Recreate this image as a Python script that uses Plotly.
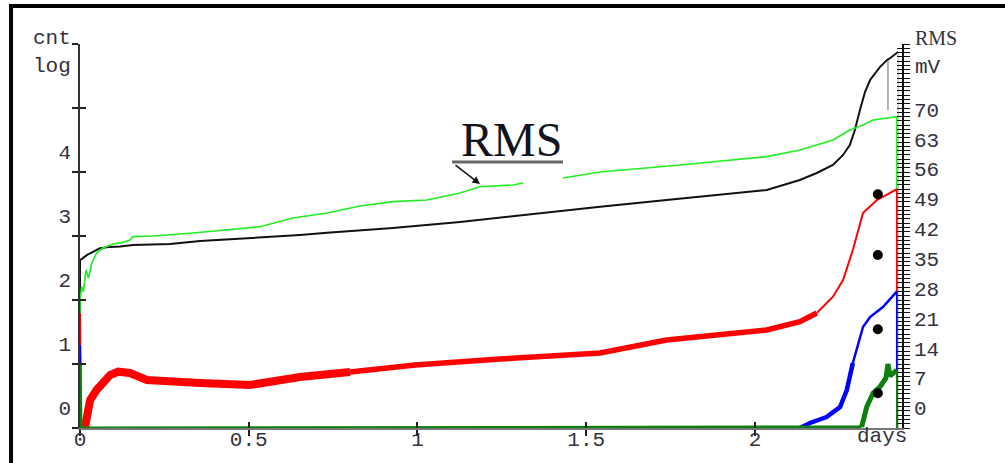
import plotly.graph_objects as go

# ---------------- data ----------------
# x in days; left axis = log counts; right axis = RMS in mV
black_x = [0, 0, 0.005, 0.02, 0.04, 0.059, 0.089, 0.119, 0.157, 0.267,
           0.356, 0.533, 0.652, 0.732, 0.927, 1.126, 1.333, 1.541, 1.738, 1.935,
           2.035, 2.133, 2.183, 2.231, 2.261, 2.281, 2.296, 2.311, 2.326, 2.341,
           2.370, 2.391, 2.397, 2.424, 2.424]
black_log = [0, 2.625, 2.64, 2.70, 2.755, 2.81, 2.83, 2.835, 2.86, 2.875,
             2.92, 2.97, 3.015, 3.05, 3.125, 3.22, 3.344, 3.458, 3.5625, 3.672,
             3.719, 3.875, 3.984, 4.109, 4.266, 4.422, 4.656, 4.969, 5.25, 5.4375,
             5.64, 5.75, 5.766, 5.875, 0]
spike_x = [2.394, 2.394]
spike_log = [5.74, 4.97]

rms_x = [0, 0, 0.005, 0.010, 0.018, 0.025, 0.035, 0.049, 0.068, 0.098,
         0.127, 0.148, 0.157, 0.216, 0.335, 0.533, 0.631, 0.732, 0.830, 0.927,
         1.028, 1.126, 1.185, 1.283, 1.313, 1.37, 1.431, 1.541, 1.778, 1.935,
         2.035, 2.133, 2.231, 2.281, 2.320, 2.350, 2.420, 2.420]
rms_mv = [0, 30.0, 33.12, 31.95, 37.03, 35.16, 38.67, 41.02, 42.19, 43.13,
          43.52, 44.06, 44.84, 45.0, 45.70, 47.18, 49.22, 50.39, 52.03, 53.04,
          53.44, 55.08, 56.55, 56.95, 57.42, None, 58.59, 60.0, 61.64, 62.81,
          63.59, 65.16, 67.50, 69.84, 71.02, 72.19, 72.96, 0]

red_x = [0, 0, 0.003, 0.015, 0.024, 0.030, 0.049, 0.068, 0.089, 0.113,
         0.148, 0.198, 0.267, 0.356, 0.504, 0.652, 0.800, 0.993, 1.244, 1.541,
         1.738, 1.935, 2.035, 2.133, 2.183, 2.231, 2.261, 2.290, 2.320, 2.361,
         2.390, 2.420, 2.420]
red_log = [0, 1.797, 0, 0.016, 0.36, 0.4375, 0.594, 0.703, 0.828, 0.880,
           0.859, 0.75, 0.723, 0.703, 0.672, 0.797, 0.875, 0.984, 1.078, 1.172,
           1.375, 1.484, 1.531, 1.661, 1.797, 2.052, 2.3125, 2.781, 3.359, 3.5625,
           3.641, 3.734, 0]

blue_x = [0, 0, 0.003, 2.133, 2.163, 2.212, 2.252, 2.272, 2.290, 2.320,
          2.341, 2.379, 2.420, 2.420]
blue_log = [0, 1.297, 0, 0, 0.078, 0.172, 0.328, 0.594, 1.016, 1.578,
            1.734, 1.891, 2.130, 0]

dgreen_x = [0, 0, 0.003, 2.316, 2.331, 2.350, 2.370, 2.388, 2.394, 2.400, 2.420, 2.420]
dgreen_log = [0, 1.0, 0, 0.016, 0.328, 0.547, 0.641, 0.781, 1.0, 0.8125, 0.906, 0]

dot_x = [2.364, 2.364, 2.364, 2.364]
dot_log = [3.652, 2.703, 1.542, 0.542]

x_ticks = [0, 0.5, 1, 1.5, 2]
x_ticktext = ["0", "0.5", "1", "1.5", "2"]
left_ticks = [0, 1, 2, 3, 4, 5, 6]
left_ticktext = ["0", "1", "2", "3", "4", "", ""]
right_ticks = list(range(0, 91))
right_labels = [0, 7, 14, 21, 28, 35, 42, 49, 56, 63, 70]

# ---------------- styling ----------------
MONO = "Liberation Mono, Courier New, monospace"
SERIF = "Liberation Serif, Times New Roman, serif"
TXT = "#333340"
X_RANGE = [0, 2.4356]
L_RANGE = [0, 6]
R_RANGE = [0, 90]

fig = go.Figure()


def add_line(xs, ys, color, width, axis="y"):
    fig.add_trace(go.Scatter(x=xs, y=ys, mode="lines", yaxis=axis,
                             line=dict(color=color, width=width),
                             connectgaps=False, hoverinfo="skip", showlegend=False))


# layer order: y (black) -> y2 (RMS) -> y3 (red, blue, dark green, dots)
nb = len(black_x)
add_line(black_x[:nb - 1], black_log[:nb - 1], "#111111", 2)
add_line(black_x[nb - 2:], black_log[nb - 2:], "#aaaaaa", 1)
add_line(spike_x, spike_log, "#999999", 1.5)
add_line(rms_x, rms_mv, "#22ee22", 1.7, axis="y2")
n = len(red_x)
for a, b, w in [(0, 4, 2), (3, 17, 8), (16, 25, 5.5), (24, n - 1, 2), (n - 2, n, 1.5)]:
    add_line(red_x[a:b], red_log[a:b], "#ff0000", w, axis="y3")
n = len(blue_x)
for a, b, w in [(0, 4, 2), (3, 9, 4.5), (8, n - 1, 2.5), (n - 2, n, 1.5)]:
    add_line(blue_x[a:b], blue_log[a:b], "#0000ff", w, axis="y3")
n = len(dgreen_x)
for a, b, w in [(0, 4, 3), (3, n - 1, 5), (n - 2, n, 1.5)]:
    add_line(dgreen_x[a:b], dgreen_log[a:b], "#0f800f", w, axis="y3")

fig.add_trace(go.Scatter(x=dot_x, y=dot_log, mode="markers", yaxis="y3",
                         marker=dict(color="black", size=10),
                         hoverinfo="skip", showlegend=False))
# empty holders so the tick-only overlay axes get drawn
fig.add_trace(go.Scatter(x=[0], y=[None], xaxis="x2", yaxis="y", mode="lines",
                         hoverinfo="skip", showlegend=False))
fig.add_trace(go.Scatter(x=[0], y=[None], yaxis="y4", mode="lines",
                         hoverinfo="skip", showlegend=False))

tickfont = dict(family=MONO, size=21, color=TXT)
common = dict(showgrid=False, zeroline=False, automargin=False)

fig.update_layout(
    width=1005, height=463, autosize=False,
    margin=dict(l=80, r=103, t=44, b=35, pad=0),
    paper_bgcolor="white", plot_bgcolor="white",
    showlegend=False,
    xaxis=dict(range=X_RANGE, tickmode="array", tickvals=x_ticks, ticktext=x_ticktext,
               ticks="outside", ticklen=6, tickwidth=1.5, tickcolor="#222",
               showline=True, linecolor="#777", linewidth=1.5, layer="below traces",
               tickfont=tickfont, ticklabelstandoff=-15, **common),
    xaxis2=dict(range=X_RANGE, overlaying="x", anchor="y", side="bottom",
                tickmode="array", tickvals=x_ticks, ticks="inside", ticklen=6,
                tickwidth=1.5, tickcolor="#222", showticklabels=False,
                showline=False, **common),
    yaxis=dict(range=L_RANGE, tickmode="array", tickvals=left_ticks, ticktext=left_ticktext,
               ticks="outside", ticklen=6, tickwidth=1.5, tickcolor="#222",
               showline=True, linecolor="#333", linewidth=1.5, layer="below traces",
               tickfont=tickfont, ticklabelshift=-20, ticklabelstandoff=-3, **common),
    yaxis2=dict(range=R_RANGE, overlaying="y", anchor="x", side="right",
                tickmode="array", tickvals=right_ticks,
                ticktext=[str(v) if v in right_labels else "" for v in right_ticks],
                ticks="outside", ticklen=6, tickwidth=1.3, tickcolor="#111",
                showline=True, linecolor="#111", linewidth=1.5,
                tickfont=tickfont, ticklabelshift=-20, **common),
    yaxis3=dict(range=L_RANGE, overlaying="y", anchor="x", side="left",
                tickmode="array", tickvals=left_ticks, ticks="inside", ticklen=6,
                tickwidth=1.5, tickcolor="#222", showticklabels=False,
                showline=False, **common),
    yaxis4=dict(range=R_RANGE, overlaying="y", anchor="x", side="right",
                tickmode="array", tickvals=right_ticks, ticks="inside", ticklen=5,
                tickwidth=1.3, tickcolor="#111", showticklabels=False,
                showline=False, **common),
)


def label(text, x, y, family=MONO, size=21, xanchor="center", color=TXT):
    fig.add_annotation(text=text, xref="paper", yref="paper", x=x, y=y,
                       xanchor=xanchor, yanchor="middle", showarrow=False,
                       font=dict(family=family, size=size, color=color))


# axis captions
label("cnt", -0.034, 1.0156)
label("log", -0.034, 0.9427)
label("RMS", 1.0134, 1.0156, family=SERIF, size=20, xanchor="left")
label("mV", 1.0134, 0.9401, xanchor="left")
label("days", 0.9757, -0.0234)

# big RMS callout with underline and arrow
label("RMS", 0.5255, 0.7526, family=SERIF, size=48, color="#141420")
fig.add_shape(type="line", xref="paper", yref="paper", x0=0.4526, x1=0.5876,
              y0=0.6927, y1=0.6927, line=dict(color="#666", width=3))
fig.add_annotation(text="", xref="paper", yref="paper", x=0.4866, y=0.6354,
                   showarrow=True, ax=-26, ay=-20, arrowhead=2, arrowsize=1,
                   arrowwidth=1.5, arrowcolor="#111")

# outer thick frame (left and top edges)
fig.add_shape(type="line", xref="paper", yref="paper", x0=-0.0839, x1=-0.0839,
              y0=-0.2, y1=1.099, line=dict(color="black", width=4))
fig.add_shape(type="line", xref="paper", yref="paper", x0=-0.0864, x1=1.2,
              y0=1.099, y1=1.099, line=dict(color="black", width=4))

fig.write_html("out.html", config={"displayModeBar": False},
               post_script="document.body.style.margin='0';")
